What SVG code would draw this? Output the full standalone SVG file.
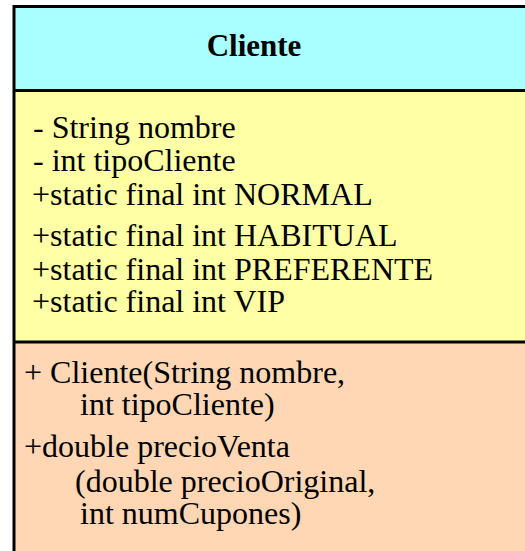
<svg xmlns="http://www.w3.org/2000/svg" width="525" height="551" viewBox="0 0 525 551">
  <style>
    .txt { font-family: "Liberation Serif", "Times New Roman", serif; font-size: 32px; fill: #000; }
    .title { font-size: 31px; font-weight: bold; text-anchor: middle; }
    .edge { stroke: #000; stroke-width: 3; fill: none; }
  </style>
  <g id="cliente">
    <!-- class name compartment -->
    <rect x="14" y="6" width="520" height="84" fill="#A9FFFF"/>
    <!-- attributes compartment -->
    <rect x="14" y="90" width="520" height="252" fill="#FFFFA6"/>
    <!-- operations compartment -->
    <rect x="14" y="342" width="520" height="220" fill="#FFD7B4"/>
    <!-- borders -->
    <path class="edge" d="M14,570 V6.5 H530"/>
    <line class="edge" x1="14" y1="90.5" x2="530" y2="90.5"/>
    <line class="edge" x1="14" y1="342" x2="530" y2="342"/>

    <text class="txt title" x="254" y="56">Cliente</text>

    <text class="txt" x="33" y="138">- String nombre</text>
    <text class="txt" x="33" y="171">- int tipoCliente</text>
    <text class="txt" x="32" y="205">+static final int NORMAL</text>
    <text class="txt" x="32" y="246">+static final int HABITUAL</text>
    <text class="txt" x="32" y="280">+static final int PREFERENTE</text>
    <text class="txt" x="32" y="312">+static final int VIP</text>

    <text class="txt" x="24" y="383">+ Cliente(String nombre,</text>
    <text class="txt" x="80" y="415">int tipoCliente)</text>
    <text class="txt" x="24" y="457">+double precioVenta</text>
    <text class="txt" x="75" y="492">(double precioOriginal,</text>
    <text class="txt" x="80" y="524">int numCupones)</text>
  </g>
</svg>
